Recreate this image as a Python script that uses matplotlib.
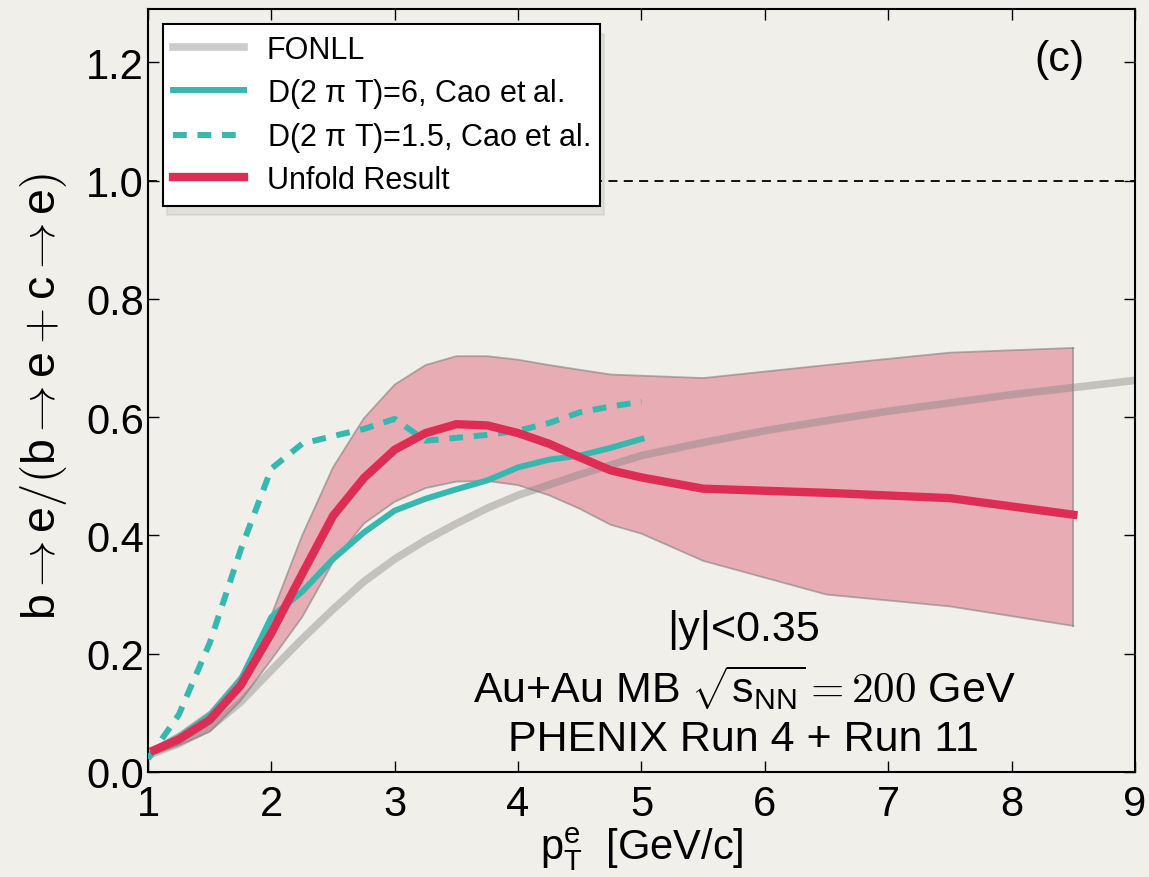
import matplotlib
matplotlib.use("Agg")
import matplotlib.pyplot as plt

# unfolded b->e fraction and its band
unf_x = [1.05, 1.25, 1.5, 1.75, 2.0, 2.25, 2.5, 2.75, 3.0, 3.25, 3.5, 3.75, 4.0, 4.25, 4.5, 4.75, 5.0, 5.5, 6.5, 7.5, 8.5]
unf_y = [0.037, 0.055, 0.088, 0.146, 0.235, 0.335, 0.433, 0.497, 0.545, 0.573, 0.588, 0.586, 0.573, 0.555, 0.532, 0.510, 0.498, 0.479, 0.472, 0.463, 0.435]
unf_hi = [0.042, 0.065, 0.102, 0.163, 0.265, 0.400, 0.515, 0.598, 0.655, 0.688, 0.703, 0.703, 0.697, 0.688, 0.680, 0.672, 0.670, 0.666, 0.688, 0.709, 0.717]
unf_lo = [0.030, 0.045, 0.068, 0.120, 0.190, 0.262, 0.355, 0.420, 0.457, 0.480, 0.491, 0.492, 0.485, 0.468, 0.445, 0.418, 0.403, 0.357, 0.300, 0.280, 0.247]

# FONLL
fonll_x = [1.0, 1.25, 1.5, 1.75, 2.0, 2.25, 2.5, 2.75, 3.0, 3.25, 3.5, 3.75, 4.0, 4.5, 5.0, 5.5, 6.0, 6.5, 7.0, 7.5, 8.0, 8.5, 9.0]
fonll_y = [0.028, 0.048, 0.075, 0.118, 0.172, 0.225, 0.275, 0.322, 0.360, 0.392, 0.420, 0.446, 0.468, 0.503, 0.535, 0.557, 0.577, 0.594, 0.610, 0.624, 0.638, 0.650, 0.662]

# Cao et al.
cao6_x = [1.05, 1.25, 1.5, 1.75, 2.0, 2.25, 2.5, 2.75, 3.0, 3.25, 3.5, 3.75, 4.0, 4.25, 4.5, 4.75, 5.0]
cao6_y = [0.035, 0.058, 0.095, 0.155, 0.262, 0.305, 0.360, 0.405, 0.442, 0.462, 0.478, 0.493, 0.515, 0.528, 0.535, 0.548, 0.563]
cao15_x = [1.0, 1.25, 1.5, 1.75, 2.0, 2.25, 2.5, 2.75, 3.0, 3.25, 3.5, 3.75, 4.0, 4.25, 4.5, 4.75, 5.0]
cao15_y = [0.022, 0.097, 0.218, 0.375, 0.513, 0.555, 0.568, 0.580, 0.597, 0.560, 0.565, 0.570, 0.577, 0.590, 0.608, 0.618, 0.626]

xticks = [1, 2, 3, 4, 5, 6, 7, 8, 9]
yticks = [0.0, 0.2, 0.4, 0.6, 0.8, 1.0, 1.2]

plt.rcParams['font.family'] = ['Liberation Sans', 'DejaVu Sans']
plt.rcParams['mathtext.fontset'] = 'custom'
plt.rcParams['mathtext.it'] = 'Liberation Sans'
plt.rcParams['mathtext.sf'] = 'Liberation Sans'
plt.rcParams['mathtext.rm'] = 'cmr10'

BG = '#f1efea'
RED = '#de2d55'
TEAL = '#36b8b0'

fig = plt.figure(figsize=(11.49, 8.78), dpi=100, facecolor=BG)
ax = fig.add_axes([0.1288, 0.1196, 0.859, 0.869], facecolor=BG)

ax.fill_between(unf_x, unf_lo, unf_hi, facecolor='#d8415e', alpha=0.38,
                edgecolor='none', zorder=1)
ax.plot(unf_x, unf_hi, color='grey', alpha=0.6, lw=1.3, zorder=1)
ax.plot(unf_x, unf_lo, color='grey', alpha=0.6, lw=1.3, zorder=1)
ax.plot([unf_x[-1], unf_x[-1]], [unf_lo[-1], unf_hi[-1]], color='grey', alpha=0.6, lw=1.3, zorder=1)

ax.plot(fonll_x, fonll_y, color='grey', alpha=0.4, lw=5.5, label='FONLL', zorder=2)
ax.plot(cao6_x, cao6_y, color=TEAL, lw=4.3, label=r'D(2 $\pi$ T)=6, Cao et al.', zorder=3)
ax.plot(cao15_x, cao15_y, color=TEAL, lw=4.3, dashes=(2.3, 1.8),
        label=r'D(2 $\pi$ T)=1.5, Cao et al.', zorder=3)
ax.plot(unf_x, unf_y, color=RED, lw=6, label='Unfold Result', zorder=4)

ax.axhline(1.0, color='black', lw=1.3, linestyle=(0, (5, 3.5)), zorder=0)

ax.set_xlim(1, 9)
ax.set_ylim(0, 1.29)
ax.set_xticks(xticks)
ax.set_yticks(yticks)
ax.set_xticklabels([str(t) for t in xticks])
ax.set_yticklabels(['%.1f' % t for t in yticks])
ax.tick_params(direction='in', length=8, width=1, top=True, right=True, labelsize=30)
ax.tick_params(axis='x', pad=9)
ax.tick_params(axis='y', pad=3)
for s in ax.spines.values():
    s.set_linewidth(1.5)

ax.set_ylabel(r'$b\rightarrow e/(b\rightarrow e+c\rightarrow e)$', fontsize=33.5)
ax.yaxis.set_label_coords(-0.08, 0.494)
ax.set_xlabel(r'$\mathsf{p}_{\mathsf{T}}^{\mathsf{e}}$  [GeV/c]', fontsize=30)
ax.xaxis.set_label_coords(0.5, -0.068)

ax.text(8.39, 1.206, '(c)', fontsize=31, ha='center', va='center')
ax.text(5.83, 0.242, '|y|<0.35', fontsize=31, ha='center', va='center')
ax.text(5.83, 0.144, r'Au+Au MB $\sqrt{\mathsf{s}_{\mathsf{NN}}}=200$ GeV', fontsize=31, ha='center', va='center')
ax.text(5.83, 0.056, 'PHENIX Run 4 + Run 11', fontsize=31, ha='center', va='center')

leg = ax.legend(loc='upper left', bbox_to_anchor=(0.015, 0.98), borderaxespad=0,
                fontsize=22, handlelength=2.3, handletextpad=0.75, labelspacing=0.35,
                borderpad=0.35, fancybox=False, framealpha=1,
                shadow={'color': '#999999', 'alpha': 0.18, 'ox': 3, 'oy': -7})
leg.get_frame().set_edgecolor('black')
leg.get_frame().set_linewidth(1.5)

fig.savefig('out.png', dpi=100, facecolor=BG)
